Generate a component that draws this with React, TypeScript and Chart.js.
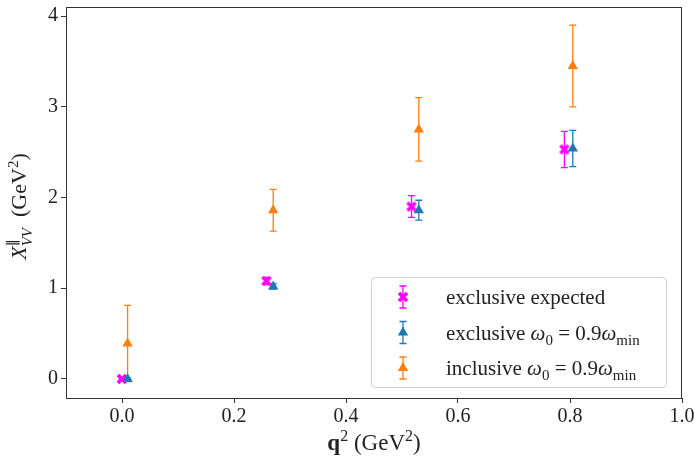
import React, { useEffect, useRef } from "react";
import { Chart, registerables, ChartConfiguration } from "chart.js";

Chart.register(...registerables);

const X_TICKS = [0, 0.2, 0.4, 0.6, 0.8, 1.0];
const Y_TICKS = [0, 1, 2, 3, 4];

// exclusive expected
const EXPECTED_Q2 = [0.0, 0.258, 0.517, 0.79];
const EXPECTED_Y = [0.0, 1.08, 1.9, 2.53];
const EXPECTED_ERR = [0.01, 0.04, 0.12, 0.2];

// exclusive w0 = 0.9 wmin
const EXCL_Q2 = [0.01, 0.27, 0.53, 0.805];
const EXCL_Y = [0.0, 1.02, 1.86, 2.54];
const EXCL_ERR = [0.01, 0.03, 0.11, 0.2];

// inclusive w0 = 0.9 wmin
const INCL_Q2 = [0.01, 0.27, 0.53, 0.805];
const INCL_Y = [0.39, 1.86, 2.75, 3.45];
const INCL_ERR = [0.42, 0.23, 0.35, 0.45];

const MAGENTA = "#ff00ff";
const BLUE = "#1f77b4";
const ORANGE = "#ff7f0e";

const SERIF = '"Liberation Serif", "DejaVu Serif", serif';

type Seg = { t: string; it?: boolean; bold?: boolean; sub?: boolean; sup?: boolean; stack?: boolean };

function segFont(s: Seg, size: number) {
  const sz = s.sub || s.sup ? Math.round(size * 0.7) : size;
  return `${s.it ? "italic " : ""}${s.bold ? "bold " : ""}${sz}px ${SERIF}`;
}

// rich text: sub/sup/italic pieces, "stack" puts the next piece over the same x
function richWidth(ctx: CanvasRenderingContext2D, segs: Seg[], size: number) {
  let w = 0;
  let stackW = 0;
  segs.forEach((s) => {
    ctx.font = segFont(s, size);
    const m = ctx.measureText(s.t).width;
    if (s.stack) {
      stackW = m;
    } else {
      w += Math.max(m, stackW);
      stackW = 0;
    }
  });
  return w;
}

function drawRich(ctx: CanvasRenderingContext2D, segs: Seg[], x: number, y: number, size: number) {
  let cx = x;
  let stackW = 0;
  segs.forEach((s) => {
    ctx.font = segFont(s, size);
    const dy = s.sub ? size * 0.25 : s.sup ? -size * 0.38 : 0;
    ctx.fillText(s.t, cx, y + dy);
    const m = ctx.measureText(s.t).width;
    if (s.stack) {
      stackW = m;
    } else {
      cx += Math.max(m, stackW);
      stackW = 0;
    }
  });
}

function makeXMarker(color: string) {
  const c = document.createElement("canvas");
  c.width = 12;
  c.height = 12;
  const g = c.getContext("2d")!;
  g.strokeStyle = color;
  g.lineWidth = 3.6;
  g.beginPath();
  g.moveTo(2, 2);
  g.lineTo(10, 10);
  g.moveTo(10, 2);
  g.lineTo(2, 10);
  g.stroke();
  return c;
}

function drawErr(ctx: CanvasRenderingContext2D, x: number, yTop: number, yBot: number, color: string) {
  ctx.strokeStyle = color;
  ctx.lineWidth = 1.3;
  ctx.beginPath();
  ctx.moveTo(x, yTop);
  ctx.lineTo(x, yBot);
  ctx.moveTo(x - 3.5, yTop);
  ctx.lineTo(x + 3.5, yTop);
  ctx.moveTo(x - 3.5, yBot);
  ctx.lineTo(x + 3.5, yBot);
  ctx.stroke();
}

const errorBarPlugin = {
  id: "errorBars",
  beforeDatasetsDraw(chart: any) {
    const ctx = chart.ctx as CanvasRenderingContext2D;
    const y = chart.scales.y;
    const area = chart.chartArea;
    ctx.save();
    ctx.beginPath();
    ctx.rect(area.left, area.top, area.right - area.left, area.bottom - area.top);
    ctx.clip();
    chart.data.datasets.forEach((ds: any, i: number) => {
      const meta = chart.getDatasetMeta(i);
      meta.data.forEach((pt: any, j: number) => {
        const v = ds.data[j].y;
        const e = ds.errors[j];
        drawErr(ctx, pt.x, y.getPixelForValue(v + e), y.getPixelForValue(v - e), ds.errColor);
      });
    });
    ctx.restore();
  },
};

const framePlugin = {
  id: "frameAndLabels",
  afterDraw(chart: any) {
    const ctx = chart.ctx as CanvasRenderingContext2D;
    const a = chart.chartArea;
    ctx.save();
    // frame
    ctx.strokeStyle = "#333";
    ctx.lineWidth = 1;
    ctx.strokeRect(a.left + 0.5, a.top + 0.5, a.right - a.left - 1, a.bottom - a.top);

    // legend
    const bx = a.right - 311;
    const by = a.bottom - 121;
    const bw = 295;
    const bh = 110;
    ctx.fillStyle = "rgba(255,255,255,0.8)";
    ctx.strokeStyle = "#d0d0d0";
    ctx.beginPath();
    ctx.roundRect(bx + 0.5, by + 0.5, bw, bh, 4);
    ctx.fill();
    ctx.stroke();

    const omega: Seg[] = [
      { t: "ω", it: true },
      { t: "0", sub: true },
      { t: " = 0.9" },
      { t: "ω", it: true },
      { t: "min", sub: true },
    ];
    const rows: { color: string; marker: string; segs: Seg[] }[] = [
      { color: MAGENTA, marker: "x", segs: [{ t: "exclusive expected" }] },
      { color: BLUE, marker: "tri", segs: [{ t: "exclusive " }, ...omega] },
      { color: ORANGE, marker: "tri", segs: [{ t: "inclusive " }, ...omega] },
    ];
    const xMark = makeXMarker(MAGENTA);
    rows.forEach((r, i) => {
      const cy = by + 20 + i * 35.5;
      const mx = bx + 32;
      drawErr(ctx, mx, cy - 11, cy + 11, r.color);
      if (r.marker === "x") {
        ctx.drawImage(xMark, mx - 6, cy - 6);
      } else {
        ctx.fillStyle = r.color;
        ctx.beginPath();
        ctx.moveTo(mx, cy - 6);
        ctx.lineTo(mx + 5.2, cy + 3);
        ctx.lineTo(mx - 5.2, cy + 3);
        ctx.closePath();
        ctx.fill();
      }
      ctx.fillStyle = "#222";
      ctx.textBaseline = "alphabetic";
      ctx.textAlign = "left";
      drawRich(ctx, r.segs, bx + 75, cy + 7, 21);
    });

    // x-axis title
    const xt: Seg[] = [
      { t: "q", bold: true },
      { t: "2", sup: true },
      { t: " (GeV" },
      { t: "2", sup: true },
      { t: ")" },
    ];
    ctx.fillStyle = "#222";
    const xw = richWidth(ctx, xt, 23);
    drawRich(ctx, xt, (a.left + a.right) / 2 - xw / 2, 450, 23);

    // y-axis title
    const yt: Seg[] = [
      { t: "X", it: true },
      { t: "∥", sup: true, stack: true },
      { t: "VV", it: true, sub: true },
      { t: "  (GeV" },
      { t: "2", sup: true },
      { t: ")" },
    ];
    const yw = richWidth(ctx, yt, 22);
    ctx.translate(26, (a.top + a.bottom) / 2 + 4);
    ctx.rotate(-Math.PI / 2);
    drawRich(ctx, yt, -yw / 2, 0, 22);
    ctx.restore();
  },
};

export default function App() {
  const canvasRef = useRef<HTMLCanvasElement | null>(null);

  useEffect(() => {
    document.body.style.margin = "0";
    if (!canvasRef.current) return;
    const xMarker = makeXMarker(MAGENTA);

    const toPts = (xs: number[], ys: number[]) => xs.map((x, i) => ({ x, y: ys[i] }));

    const config: ChartConfiguration<"scatter"> = {
      type: "scatter",
      data: {
        datasets: [
          {
            label: "exclusive expected",
            data: toPts(EXPECTED_Q2, EXPECTED_Y),
            pointStyle: xMarker as any,
            pointRadius: 6,
            backgroundColor: MAGENTA,
            borderColor: MAGENTA,
            order: 3,
            errors: EXPECTED_ERR,
            errColor: MAGENTA,
          } as any,
          {
            label: "exclusive ω0 = 0.9ωmin",
            data: toPts(EXCL_Q2, EXCL_Y),
            pointStyle: "triangle",
            pointRadius: 6,
            borderWidth: 0,
            backgroundColor: BLUE,
            borderColor: BLUE,
            order: 2,
            errors: EXCL_ERR,
            errColor: BLUE,
          } as any,
          {
            label: "inclusive ω0 = 0.9ωmin",
            data: toPts(INCL_Q2, INCL_Y),
            pointStyle: "triangle",
            pointRadius: 6,
            borderWidth: 0,
            backgroundColor: ORANGE,
            borderColor: ORANGE,
            order: 1,
            errors: INCL_ERR,
            errColor: ORANGE,
          } as any,
        ],
      },
      options: {
        animation: false,
        responsive: true,
        maintainAspectRatio: false,
        layout: { padding: { top: 4, right: 12, left: 0, bottom: 0 } },
        plugins: {
          legend: { display: false },
          tooltip: { enabled: false },
        },
        scales: {
          x: {
            type: "linear",
            min: -0.1,
            max: 1.0,
            afterBuildTicks: (s: any) => {
              s.ticks = X_TICKS.map((v) => ({ value: v }));
            },
            afterFit: (s: any) => {
              s.height = 61;
              s.paddingLeft = 0;
              s.paddingRight = 0;
            },
            ticks: {
              color: "#222",
              font: { family: SERIF, size: 20 },
              padding: 2,
              maxRotation: 0,
              callback: (v: any) => Number(v).toFixed(1),
            },
            grid: {
              drawOnChartArea: false,
              drawTicks: true,
              tickLength: 5,
              color: "#333",
            },
            border: { display: true, color: "#333", width: 1 },
          },
          y: {
            type: "linear",
            min: -0.21,
            max: 4.1,
            afterBuildTicks: (s: any) => {
              s.ticks = Y_TICKS.map((v) => ({ value: v }));
            },
            afterFit: (s: any) => {
              s.width = 66;
              s.paddingTop = 0;
              s.paddingBottom = 0;
            },
            ticks: {
              color: "#222",
              font: { family: SERIF, size: 20 },
              padding: 3,
              callback: (v: any) => String(v),
            },
            grid: {
              drawOnChartArea: false,
              drawTicks: true,
              tickLength: 5,
              color: "#333",
            },
            border: { display: true, color: "#333", width: 1 },
          },
        },
      },
      plugins: [errorBarPlugin, framePlugin],
    };

    const chart = new Chart(canvasRef.current, config);
    return () => {
      chart.destroy();
    };
  }, []);

  return (
    <div style={{ position: "relative", width: 694, height: 459, background: "#fff" }}>
      <canvas ref={canvasRef} />
    </div>
  );
}
